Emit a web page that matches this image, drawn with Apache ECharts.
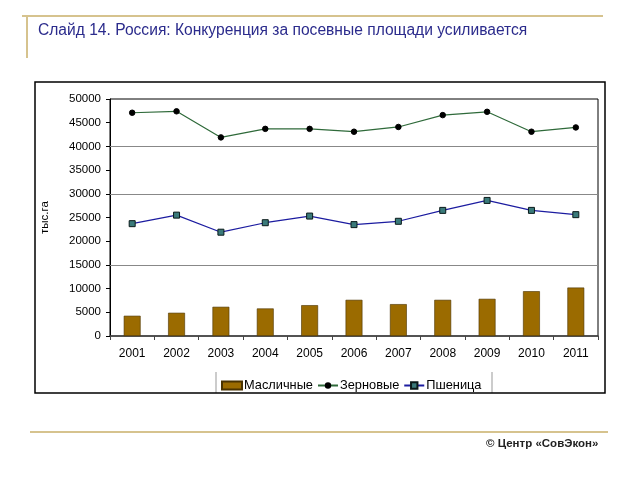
<!DOCTYPE html>
<html>
<head>
<meta charset="utf-8">
<script src="https://cdn.jsdelivr.net/npm/echarts@6/dist/echarts.min.js"></script>
<style>
html,body{margin:0;padding:0;background:#fff;}
#c{width:640px;height:480px;}
</style>
</head>
<body>
<div id="c"></div>
<script>
const years = ['2001','2002','2003','2004','2005','2006','2007','2008','2009','2010','2011'];
const oilseeds = [4270, 4900, 6160, 5810, 6500, 7630, 6720, 7630, 7840, 9450, 10220];
const grains = [47100, 47400, 41900, 43700, 43700, 43100, 44100, 46600, 47300, 43100, 44000];
const wheat = [23700, 25500, 21900, 23900, 25300, 23500, 24200, 26500, 28600, 26500, 25600];
const gridLevels = [15000, 30000, 40000];

const chart = echarts.init(document.getElementById('c'));
const font = '"Liberation Sans", Arial, sans-serif';
chart.setOption({
  animation: false,
  backgroundColor: '#fff',
  textStyle: {fontFamily: font},
  grid: {left: 110, top: 99, right: 42, bottom: 144, show: true, borderColor: '#000', borderWidth: 1},
  graphic: [
    {type: 'line', shape: {x1: 22, y1: 16, x2: 603, y2: 16}, style: {stroke: '#d6c38e', lineWidth: 2}},
    {type: 'line', shape: {x1: 27, y1: 16, x2: 27, y2: 58}, style: {stroke: '#d6c38e', lineWidth: 2}},
    {type: 'line', shape: {x1: 30, y1: 432, x2: 608, y2: 432}, style: {stroke: '#d6c38e', lineWidth: 2}},
    {type: 'text', left: 38, top: 23, style: {text: 'Слайд 14. Россия: Конкуренция за посевные площади усиливается', fill: '#2b2b8c', font: '15.6px ' + font}},
    {type: 'text', left: 486, top: 438, style: {text: '© Центр «СовЭкон»', fill: '#222', font: 'bold 11.5px ' + font}},
    {type: 'rect', shape: {x: 35, y: 82, width: 570, height: 311}, style: {fill: 'none', stroke: '#000', lineWidth: 1.5}, z: 10},
    {type: 'line', shape: {x1: 216, y1: 372, x2: 216, y2: 393}, style: {stroke: '#999', lineWidth: 1}},
    {type: 'line', shape: {x1: 492, y1: 372, x2: 492, y2: 393}, style: {stroke: '#999', lineWidth: 1}}
  ],
  legend: {
    left: 216, top: 374, itemGap: 4, itemWidth: 20, itemHeight: 8,
    textStyle: {fontSize: 12.8, color: '#000', fontFamily: font, padding: [0,0,0,-3]},
    data: [
      {name: 'Масличные', icon: 'rect'},
      {name: 'Зерновые'},
      {name: 'Пшеница'}
    ]
  },
  xAxis: {
    type: 'category', data: years, boundaryGap: true,
    axisLine: {lineStyle: {color: '#444', width: 1.5}},
    axisTick: {show: true, alignWithLabel: false, inside: false, length: 4, lineStyle: {color: '#444'}},
    axisLabel: {fontSize: 12, color: '#000', margin: 12, fontFamily: font}
  },
  yAxis: {
    type: 'value', min: 0, max: 50000, interval: 5000,
    name: 'тыс.га', nameLocation: 'middle', nameGap: 59, nameRotate: 90,
    nameTextStyle: {fontSize: 11.5, color: '#000', fontFamily: font},
    axisLine: {show: true, lineStyle: {color: '#000'}},
    axisTick: {show: true, length: 4, lineStyle: {color: '#000'}},
    axisLabel: {fontSize: 11.5, color: '#000', margin: 9, fontFamily: font, formatter: v => String(v)},
    splitLine: {show: false}
  },
  series: [
    {
      name: 'Масличные', type: 'bar', data: oilseeds, barWidth: '38%',
      itemStyle: {color: '#9b6b00', borderColor: '#4a3300', borderWidth: 0.6},
      markLine: {
        silent: true, symbol: 'none', label: {show: false},
        lineStyle: {color: '#888', type: 'solid', width: 1},
        data: gridLevels.map(v => ({yAxis: v}))
      },
      z: 2
    },
    {
      name: 'Зерновые', type: 'line', data: grains,
      symbol: 'circle', symbolSize: 5.5,
      lineStyle: {color: '#2f6a3a', width: 1.2},
      itemStyle: {color: '#000', borderColor: '#000'},
      z: 3
    },
    {
      name: 'Пшеница', type: 'line', data: wheat,
      symbol: 'rect', symbolSize: 6,
      lineStyle: {color: '#1c1ca0', width: 1.2},
      itemStyle: {color: '#3a7a7a', borderColor: '#0a1a1a', borderWidth: 1},
      z: 3
    }
  ]
});
</script>
</body>
</html>
